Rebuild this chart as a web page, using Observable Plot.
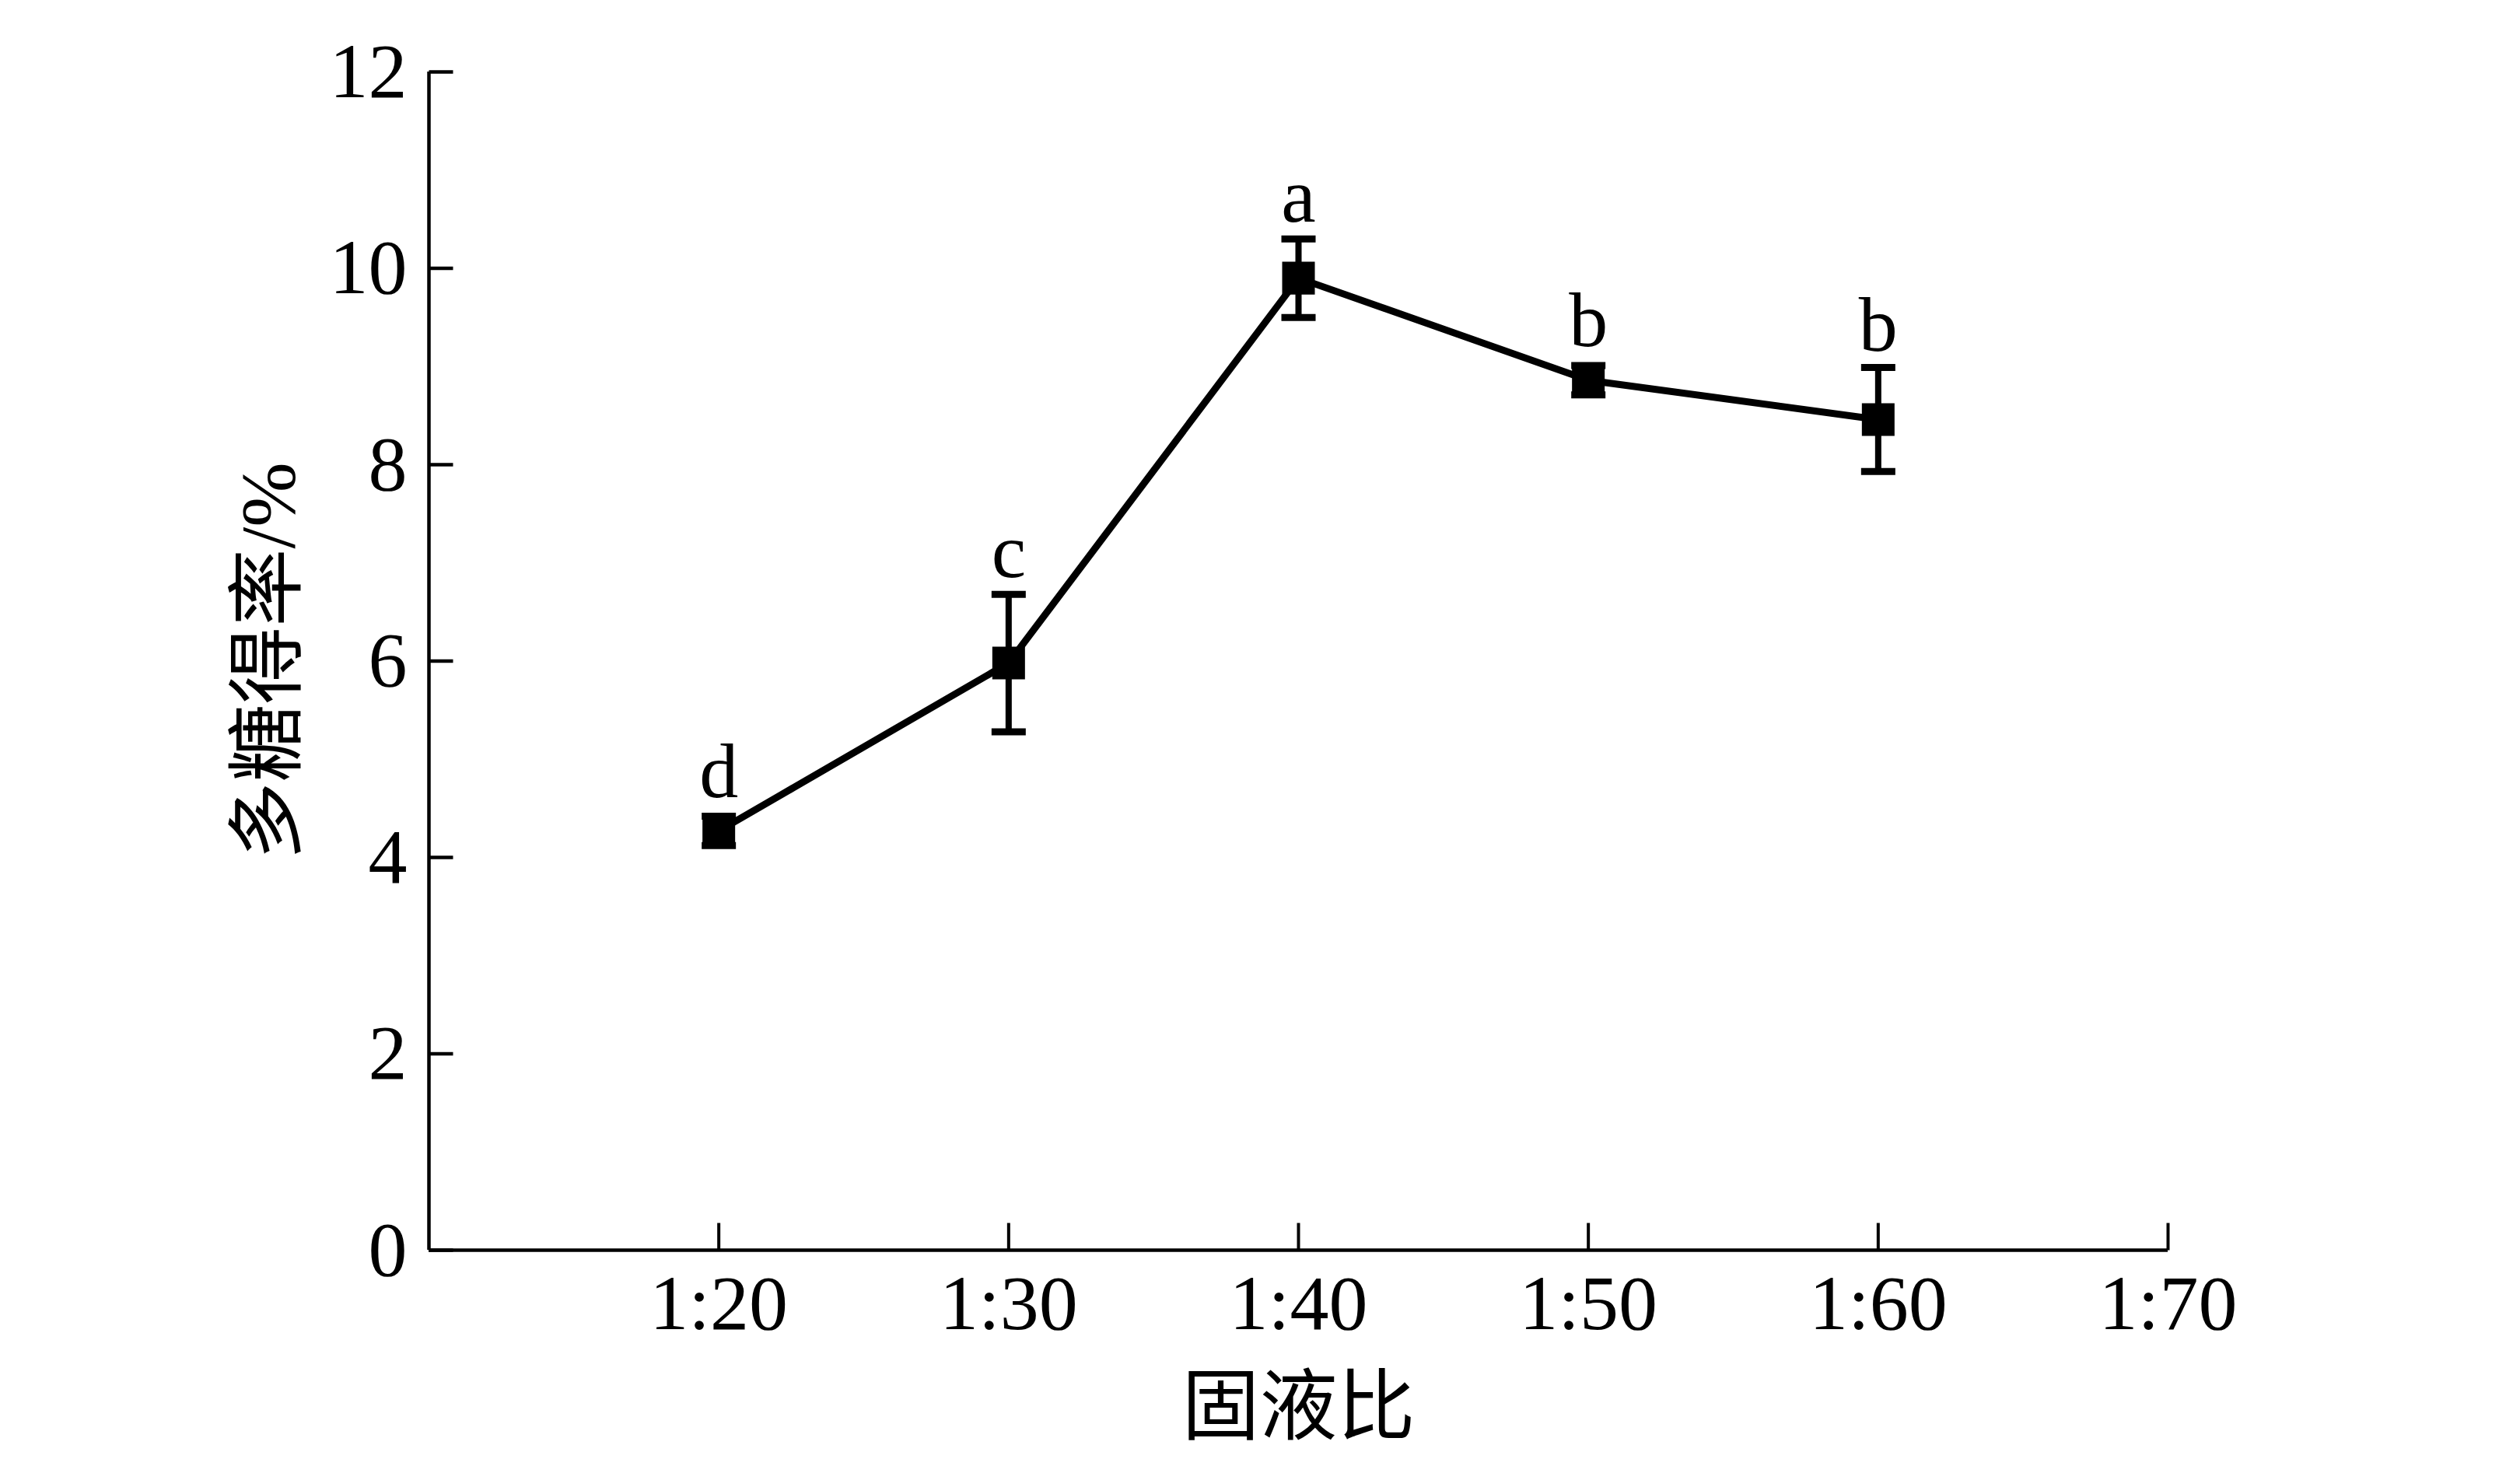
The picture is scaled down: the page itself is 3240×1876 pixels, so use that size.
<!DOCTYPE html>
<html>
<head>
<meta charset="utf-8">
<script src="https://cdn.jsdelivr.net/npm/d3@7"></script>
<script src="https://cdn.jsdelivr.net/npm/@observablehq/plot@0.6"></script>
<style>
  html, body { margin: 0; padding: 0; background: #fff; }
  #chart svg { display: block; }
</style>
</head>
<body>
<div id="chart"></div>
<script>
// ---- data ----
const ratios = [20, 30, 40, 50, 60];               // solid:liquid ratio 1:x
const yieldMean = [4.27, 5.98, 9.90, 8.86, 8.46];  // polysaccharide yield, %
const yieldErr = [0.15, 0.70, 0.40, 0.15, 0.53];   // error bars
const groupLetters = ["d", "c", "a", "b", "b"];
const xTicks = [20, 30, 40, 50, 60, 70];
const yTicks = [0, 2, 4, 6, 8, 10, 12];
const xTitle = "固液比";
const yTitle = "多糖得率/%";

const data = ratios.map((r, i) => ({r, v: yieldMean[i], e: yieldErr[i], g: groupLetters[i]}));

const font = '"Liberation Serif", "Times New Roman", "Noto Sans CJK SC", serif';

// custom symbols: horizontal cap, inward y tick, inward x tick
const hCap = {draw(ctx, size) { const h = Math.sqrt(size / Math.PI); ctx.moveTo(-h, 0); ctx.lineTo(h, 0); }};
const yTickSym = {draw(ctx, size) { const h = Math.sqrt(size / Math.PI); ctx.moveTo(0, 0); ctx.lineTo(h, 0); }};
const xTickSym = {draw(ctx, size) { const h = Math.sqrt(size / Math.PI); ctx.moveTo(0, 0); ctx.lineTo(0, -h); }};

const chart = Plot.plot({
  width: 3240,
  height: 1876,
  marginLeft: 551,
  marginRight: 453,
  marginTop: 92,
  marginBottom: 269,
  style: {fontFamily: font, background: "white", color: "black"},
  x: {domain: [10, 70]},
  y: {domain: [0, 12]},
  marks: [
    // axis lines
    Plot.ruleX([10], {stroke: "black", strokeWidth: 4.5}),
    Plot.ruleY([0], {stroke: "black", strokeWidth: 4.5}),
    // inward tick marks
    Plot.dot(yTicks, {frameAnchor: "left", y: d => d, symbol: yTickSym, r: 31, stroke: "black", strokeWidth: 4.5, fill: "none"}),
    Plot.dot(xTicks, {frameAnchor: "bottom", x: d => d, symbol: xTickSym, r: 35, stroke: "black", strokeWidth: 4, fill: "none"}),
    // tick labels
    Plot.axisY({ticks: yTicks, tickSize: 0, tickPadding: 28, fontSize: 100, fontFamily: font, label: null, tickFormat: d => String(d)}),
    Plot.axisX({ticks: xTicks, tickSize: 0, tickPadding: 30, fontSize: 100, fontFamily: font, label: null, tickFormat: d => "1:" + d}),
    // axis titles
    Plot.text([xTitle], {frameAnchor: "bottom", textAnchor: "middle", lineAnchor: "middle", dy: 203, fontSize: 100, fontFamily: font, fill: "black"}),
    Plot.text([yTitle], {frameAnchor: "left", textAnchor: "middle", lineAnchor: "middle", dx: -206, rotate: -90, fontSize: 100, fontFamily: font, fill: "black"}),
    // series
    Plot.line(data, {x: "r", y: "v", stroke: "black", strokeWidth: 9}),
    Plot.ruleX(data, {x: "r", y1: d => d.v - d.e, y2: d => d.v + d.e, stroke: "black", strokeWidth: 8}),
    Plot.dot(data, {x: "r", y: d => d.v + d.e, symbol: hCap, r: 22, stroke: "black", strokeWidth: 9, fill: "none"}),
    Plot.dot(data, {x: "r", y: d => d.v - d.e, symbol: hCap, r: 22, stroke: "black", strokeWidth: 9, fill: "none"}),
    Plot.dot(data, {x: "r", y: "v", symbol: "square", r: 23.7, fill: "black", stroke: "none"}),
    // significance letters
    Plot.text(data, {x: "r", y: d => d.v + Math.max(d.e, 0.17), text: "g", lineAnchor: "bottom", dy: -22, fontSize: 100, fontFamily: font, fill: "black"})
  ]
});

document.getElementById("chart").appendChild(chart);
</script>
</body>
</html>
